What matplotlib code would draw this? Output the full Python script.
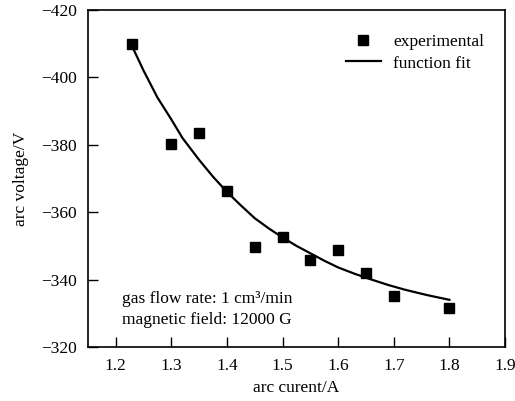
import matplotlib
matplotlib.use("Agg")
import matplotlib.pyplot as plt

# experimental data
current = [1.23, 1.30, 1.35, 1.40, 1.45, 1.50, 1.55, 1.60, 1.65, 1.70, 1.80]
voltage = [-410.0, -380.2, -383.5, -366.4, -349.8, -352.6, -345.8, -348.8, -342.0, -335.1, -331.6]

# function fit curve
fit_current = [1.23, 1.25, 1.275, 1.30, 1.32, 1.35, 1.375, 1.40, 1.425, 1.45, 1.475, 1.50, 1.525,
               1.55, 1.575, 1.60, 1.63, 1.66, 1.69, 1.72, 1.76, 1.80]
fit_voltage = [-409.0, -402.0, -394.0, -387.5, -382.0, -375.5, -370.5, -366.0, -362.0, -358.2, -355.2,
               -352.5, -350.0, -347.8, -345.6, -343.6, -341.7, -340.0, -338.4, -337.0, -335.4, -334.0]

xticks = [1.2, 1.3, 1.4, 1.5, 1.6, 1.7, 1.8, 1.9]
yticks = [-420, -400, -380, -360, -340, -320]

plt.rcParams['font.family'] = ['Liberation Serif', 'DejaVu Serif']
plt.rcParams['font.size'] = 12.5

fig = plt.figure(figsize=(5.15, 4.01), dpi=100)
ax = fig.add_axes([88/515, 1-347/401, (505-88)/515, (347-10)/401])

ax.plot(current, voltage, 's', color='black', markersize=7, label='experimental', linestyle='none')
ax.plot(fit_current, fit_voltage, '-', color='black', linewidth=1.6, label='function fit')

ax.set_xlim(1.15, 1.9)
ax.set_ylim(-320, -420)
ax.set_xticks(xticks)
ax.set_xticklabels([f"{t:.1f}" for t in xticks])
ax.set_yticks(yticks)
ax.tick_params(direction='in', length=7, width=1, pad=8, labelsize=12.5)
for s in ax.spines.values():
    s.set_linewidth(1.2)

ax.set_xlabel('arc curent/A', fontsize=12.5, labelpad=4)
ax.set_ylabel('arc voltage/V', fontsize=12.5, labelpad=9)

ax.text(1.211, -331.2, 'gas flow rate: 1 cm³/min\nmagnetic field: 12000 G',
        fontsize=12.5, ha='left', va='center', linespacing=1.38)

ax.legend(loc='upper left', bbox_to_anchor=(346/515, 1-34/401), bbox_transform=fig.transFigure,
          frameon=False, borderpad=0, borderaxespad=0, handlelength=2.0,
          handletextpad=0.7, labelspacing=0.3, fontsize=12.5)

fig.savefig('out.png', dpi=100)
